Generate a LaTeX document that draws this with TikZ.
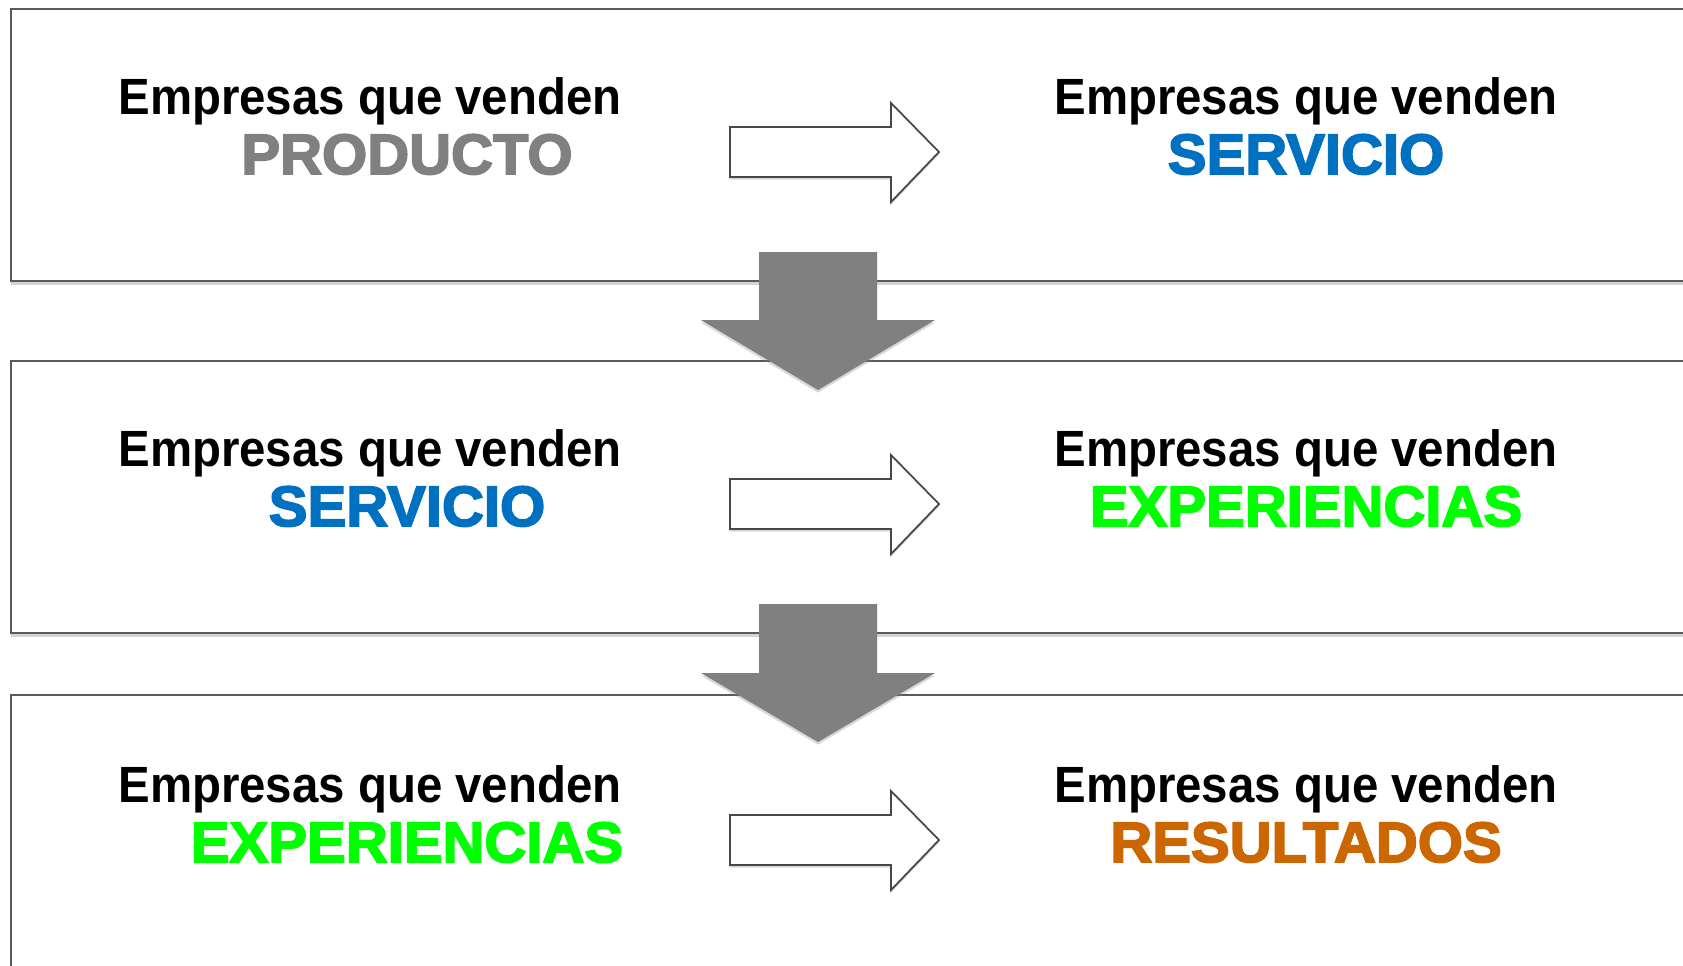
\documentclass[tikz,border=0pt]{standalone}
\usepackage{fontspec}
\setmainfont{Liberation Sans}
\newfontfamily\lineafont[FakeStretch=0.93]{Liberation Sans}
\newfontfamily\clavefont[FakeBold=3, FakeStretch=1.02]{Liberation Sans}
\usepackage{xcolor}
\usetikzlibrary{shadows}

\definecolor{grisprod}{HTML}{808080}
\definecolor{azulserv}{HTML}{0070C0}
\definecolor{verdeexp}{HTML}{00FF00}
\definecolor{naranjares}{HTML}{CC6600}
\definecolor{borde}{HTML}{5A5A5A}

\tikzset{
    caja/.style={draw=borde, line width=0.85pt, fill=white,
        drop shadow={shadow xshift=0pt, shadow yshift=-2.5pt, opacity=0.35}},
    linea/.style={anchor=base, font=\lineafont\fontsize{29}{34}\selectfont\bfseries},
    clave/.style={anchor=base, font=\clavefont\fontsize{32.4}{38}\selectfont\bfseries},
    hueca/.style={draw=borde!80!black, line width=1pt, fill=white, line join=miter,
        drop shadow={shadow xshift=0pt, shadow yshift=-1.5pt, opacity=0.3}},
    bajada/.style={fill=grisprod,
        drop shadow={shadow xshift=0pt, shadow yshift=-1.5pt, opacity=0.3}}
}

\begin{document}
\begin{tikzpicture}[x=0.02cm, y=-0.02cm]
    \useasboundingbox (0,0) rectangle (1683,965);
    \clip (0,0) rectangle (1683,965);

    % cajas
    \draw[caja] (11,9)   rectangle (1720,281);
    \draw[caja] (11,361) rectangle (1720,633);
    \draw[caja] (11,695) rectangle (1720,1010);

    % fila 1
    \node[linea] (izq1) at (370,114) {Empresas que venden};
    \node[clave, text=grisprod] (izqclave1) at (407,174) {PRODUCTO};
    \node[linea] (der1) at (1306,114) {Empresas que venden};
    \node[clave, text=azulserv] (derclave1) at (1306,174) {SERVICIO};

    % fila 2
    \node[linea] (izq2) at (370,466) {Empresas que venden};
    \node[clave, text=azulserv] (izqclave2) at (407,526) {SERVICIO};
    \node[linea] (der2) at (1306,466) {Empresas que venden};
    \node[clave, text=verdeexp] (derclave2) at (1306,526) {EXPERIENCIAS};

    % fila 3
    \node[linea] (izq3) at (370,802) {Empresas que venden};
    \node[clave, text=verdeexp] (izqclave3) at (407,862) {EXPERIENCIAS};
    \node[linea] (der3) at (1306,802) {Empresas que venden};
    \node[clave, text=naranjares] (derclave3) at (1306,862) {RESULTADOS};

    % flechas huecas
    \coordinate (f1) at (730,152);
    \coordinate (f2) at (730,504);
    \coordinate (f3) at (730,840);
    \draw[hueca] (f1) ++(0,-25) -- ++(161,0) -- ++(0,-24) -- ++(48,49)
        -- ++(-48,50) -- ++(0,-25) -- ++(-161,0) -- cycle;
    \draw[hueca] (f2) ++(0,-25) -- ++(161,0) -- ++(0,-24) -- ++(48,49)
        -- ++(-48,50) -- ++(0,-25) -- ++(-161,0) -- cycle;
    \draw[hueca] (f3) ++(0,-25) -- ++(161,0) -- ++(0,-24) -- ++(48,49)
        -- ++(-48,50) -- ++(0,-25) -- ++(-161,0) -- cycle;

    % flechas grises
    \coordinate (b1) at (818,252);
    \coordinate (b2) at (818,604);
    \fill[bajada] (b1) ++(-59,0) -- ++(118,0) -- ++(0,68) -- ++(58,0)
        -- ++(-117,70) -- ++(-117,-70) -- ++(58,0) -- cycle;
    \fill[bajada] (b2) ++(-59,0) -- ++(118,0) -- ++(0,69) -- ++(58,0)
        -- ++(-117,69) -- ++(-117,-69) -- ++(58,0) -- cycle;
\end{tikzpicture}
\end{document}
